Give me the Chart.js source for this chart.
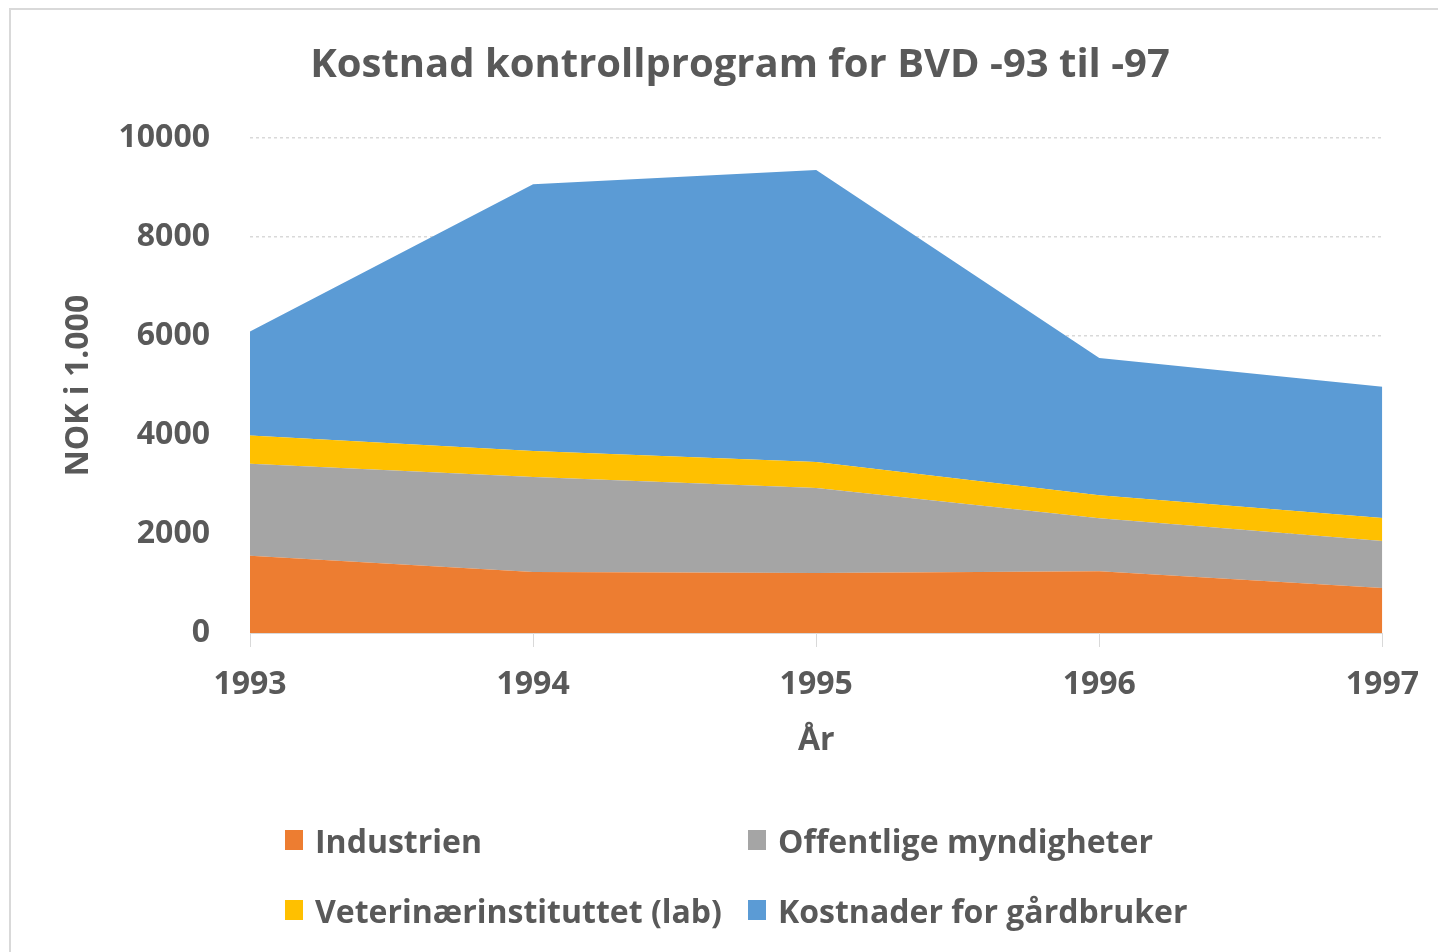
<!DOCTYPE html>
<html>
<head>
<meta charset="utf-8">
<script src="https://cdn.jsdelivr.net/npm/chart.js@4.4.1/dist/chart.umd.min.js"></script>
<style>
  html, body { margin: 0; padding: 0; background: #fff; overflow: hidden; }
  #frame { position: absolute; left: 9px; top: 8px; width: 1460px; height: 980px; border: 2px solid #d9d9d9; }
  #wrap { position: absolute; left: 0; top: 0; width: 1438px; height: 952px; }
  #legend { position: absolute; left: 0; top: 0; font-family: 'Open Sans', sans-serif; font-weight: bold; font-size: 32px; color: #595959; }
  .item { position: absolute; display: flex; align-items: center; height: 48px; white-space: nowrap; }
  .box { width: 18px; height: 20px; margin-right: 12px; }
</style>
</head>
<body>
<div id="frame"></div>
<div id="wrap"><canvas id="bvd-chart"></canvas></div>
<div id="legend"></div>
<script>
/* Data (NOK i 1.000) */
let years = ['1993', '1994', '1995', '1996', '1997']
let industrien = [1560, 1230, 1210, 1250, 910]
let offentlige = [1860, 1920, 1720, 1070, 950]
let veterinaer = [570, 525, 525, 465, 465]
let gardbruker = [2100, 5390, 5900, 2770, 2650]

let seriesNames = ['Industrien', 'Offentlige myndigheter', 'Veterinærinstituttet (lab)', 'Kostnader for gårdbruker']
let seriesColors = ['#ED7D31', '#A5A5A5', '#FFC000', '#5B9BD5']
let yTickValues = [0, 2000, 4000, 6000, 8000, 10000]

let textColor = '#595959'
let fontFamily = "'Open Sans', sans-serif"

let allSeries = [industrien, offentlige, veterinaer, gardbruker]

let datasets = allSeries.map(function(values, i) {
    return {
        label: seriesNames[i],
        data: values,
        backgroundColor: seriesColors[i],
        borderColor: seriesColors[i],
        borderWidth: 0,
        pointRadius: 0,
        tension: 0,
        fill: i == 0 ? 'origin' : '-1'
    }
})

let ctx = document.querySelector('#bvd-chart').getContext('2d')

let bvdChart = new Chart(ctx, {
    type: 'line',
    data: {
        labels: years,
        datasets: datasets
    },
    options: {
        responsive: true,
        maintainAspectRatio: false,
        animation: false,
        layout: {
            padding: { left: 60, right: 18, top: 0, bottom: 180 }
        },
        plugins: {
            legend: { display: false },
            tooltip: { enabled: false },
            title: {
                display: true,
                text: 'Kostnad kontrollprogram for BVD -93 til -97',
                color: textColor,
                font: { family: fontFamily, size: 40, weight: 'bold' },
                padding: { top: 42, bottom: 48 }
            }
        },
        scales: {
            x: {
                offset: false,
                grid: { drawOnChartArea: false, drawTicks: true, tickLength: 14, color: '#d9d9d9' },
                border: { color: '#d9d9d9' },
                ticks: { color: textColor, font: { family: fontFamily, size: 32, weight: 'bold' }, padding: 19, maxRotation: 0 },
                title: {
                    display: true,
                    text: 'År',
                    color: textColor,
                    font: { family: fontFamily, size: 32, weight: 'bold' },
                    padding: { top: 0, bottom: 12 }
                },
                afterFit: function(scale) { scale.height = 139 }
            },
            y: {
                stacked: true,
                min: 0,
                max: 10000,
                afterBuildTicks: function(scale) {
                    scale.ticks = yTickValues.map(function(v) { return { value: v } })
                },
                grid: { drawTicks: false, color: '#d9d9d9', lineWidth: 1.5 },
                border: { display: false, dash: [3, 3] },
                ticks: {
                    color: textColor,
                    font: { family: fontFamily, size: 32, weight: 'bold' },
                    padding: 40,
                    callback: function(value) { return String(value) }
                },
                title: {
                    display: true,
                    text: 'NOK i 1.000',
                    color: textColor,
                    font: { family: fontFamily, size: 32, weight: 'bold' },
                    padding: 0
                },
                afterFit: function(scale) { scale.width = 190 }
            }
        }
    }
})

/* Legend as a 2x2 grid, like the original */
let legendEl = document.querySelector('#legend')
let legendCols = [285, 748]
let legendRows = [816, 886]
seriesNames.forEach(function(name, i) {
    let item = document.createElement('div')
    item.className = 'item'
    item.style.left = legendCols[i % 2] + 'px'
    item.style.top = legendRows[Math.floor(i / 2)] + 'px'
    let box = document.createElement('span')
    box.className = 'box'
    box.style.background = seriesColors[i]
    let label = document.createElement('span')
    label.textContent = name
    item.appendChild(box)
    item.appendChild(label)
    legendEl.appendChild(item)
})
</script>
</body>
</html>
